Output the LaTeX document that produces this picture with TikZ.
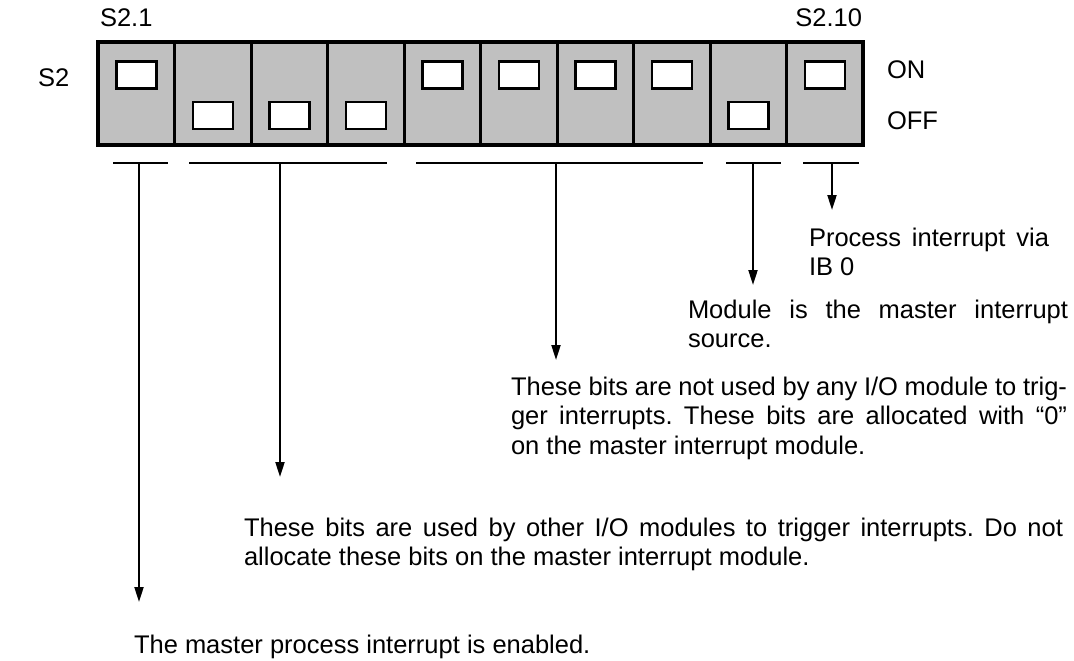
\documentclass[tikz,border=0pt]{standalone}
\usepackage{fontspec}
\setmainfont{Liberation Sans}
\usetikzlibrary{arrows.meta}
\definecolor{swgray}{HTML}{C0C0C0}
\frenchspacing

\begin{document}
\begin{tikzpicture}[x=1pt,y=-1pt,line width=2pt,
  cell/.style={draw,fill=swgray,line width=3pt,minimum width=76.5pt,minimum height=103pt,inner sep=0pt,outer sep=0pt},
  knob/.style={draw,fill=white,line width=2.3pt,minimum width=40pt,minimum height=27pt,inner sep=0pt},
  lbl/.style={inner sep=0pt,font=\fontsize{25.5}{29.5}\selectfont},
  note/.style={lbl,anchor=north west,align=justify},
  tip/.style={-{Triangle[length=15pt,width=9pt]}}]
  \useasboundingbox (0,0) rectangle (1074,661);
  \foreach \i in {0,...,9}
    \node[cell] (c\i) at (136.25+76.5*\i,93.5) {};
  \draw[line width=4pt] (c0.north west) rectangle (c9.south east);
  \foreach \i/\y in {0/75,1/115.5,2/115.5,3/115.5,4/75,5/75,6/75,7/75,8/115.5,9/75}
    \node[knob] (k\i) at (136.5+76.5*\i,\y) {};
  \node[lbl,anchor=base west] (s21) at (99,27) {S2.1};
  \node[lbl,anchor=base east] (s210) at (863,27) {S2.10};
  \node[lbl,anchor=base west] (s2) at (37,86) {S2};
  \node[lbl,anchor=base west] (on) at (886,79) {ON};
  \node[lbl,anchor=base west] (off) at (886,129) {OFF};
  \foreach \n/\l/\m/\r/\e in {1/113/139/168/602,2/189/280/387/477,3/416/556/703/360,4/726/753/781/285,5/803/832/859/210}{
    \draw (\l,163) -- (\r,163);
    \coordinate (b\n) at (\m,163);
    \coordinate (t\n) at (\m,\e);
    \draw[tip] (b\n) -- (t\n);
  }
  \node[note,text width=240pt] (n5) at (808,227) {Process interrupt via\linebreak IB 0};
  \node[note,text width=380pt] (n4) at (687,299) {Module is the master interrupt\linebreak source.};
  \node[note,text width=556pt] (n3) at (510,376) {These bits are not used by any I/O module to trig-\linebreak ger interrupts. These bits are allocated with “0”\linebreak on the master interrupt module.};
  \node[note,text width=819pt] (n2) at (243,517) {These bits are used by other I/O modules to trigger interrupts. Do not\linebreak allocate these bits on the master interrupt module.};
  \node[note,text width=470pt] (n1) at (133,634) {The master process interrupt is enabled.};
\end{tikzpicture}
\end{document}
